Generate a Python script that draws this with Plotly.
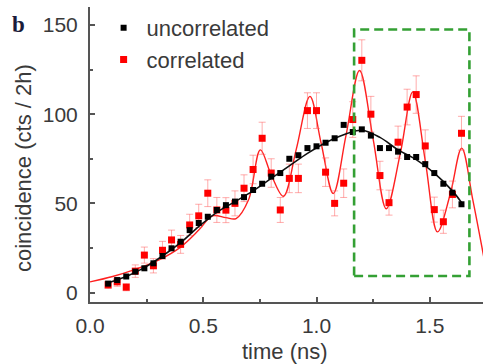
import plotly.graph_objects as go

# ---- data ----
time_ns = [0.08, 0.12, 0.16, 0.20, 0.24, 0.28, 0.32, 0.36, 0.40, 0.44,
           0.48, 0.52, 0.56, 0.60, 0.64, 0.68, 0.72, 0.76, 0.80, 0.84,
           0.88, 0.92, 0.96, 1.00, 1.04, 1.08, 1.12, 1.16, 1.20, 1.24,
           1.28, 1.32, 1.36, 1.40, 1.44, 1.48, 1.52, 1.56, 1.60, 1.64]

uncorrelated = [5, 7, 9, 11.7, 13.6, 16.4, 20.5, 24.8, 28.5, 35,
                39, 42.5, 46.3, 49, 51, 53.5, 57.5, 61, 65, 67,
                75, 77, 81, 82, 84, 86.5, 94, 90, 91.5, 88,
                81, 81, 79, 76, 76, 72, 67, 61, 56, 49.5]

correlated = [4.3, 6, 3, 12, 21, 15, 23.7, 29.5, 27, 37.9,
              43, 55.7, 46.3, 46.2, 50, 58.5, 69, 86.5, 67, 46.3,
              64, 64, 102, 102, 67.5, 50, 61.3, 97, 130.2, 100,
              65.6, 50.4, 84.3, 104, 111, 82.2, 46.5, 39.7, 55, 89.3]

correlated_err = [2, 2.5, 2, 3.5, 4.5, 4, 5, 5.5, 5, 6,
                  6.5, 7.5, 7, 7, 7, 7.5, 8, 9, 8, 7,
                  8, 8, 10, 10, 8, 7, 8, 10, 11.5, 10,
                  8, 7, 9, 10, 10.5, 9, 7, 6.5, 7.5, 9.5]

uncorr_fit_x = [0.08, 0.16, 0.24, 0.32, 0.40, 0.48, 0.56, 0.64, 0.72, 0.80,
                0.88, 0.96, 1.04, 1.12, 1.20, 1.28, 1.36, 1.44, 1.52, 1.60, 1.64]
uncorr_fit_y = [5.5, 9, 14, 20.5, 28, 37, 45, 51, 57, 64,
                71, 78, 84, 88.5, 91, 87, 80, 74.5, 67, 57, 50.5]

corr_fit_x = [0.0, 0.10, 0.20, 0.30, 0.40, 0.48, 0.54, 0.60, 0.645, 0.70,
              0.752, 0.80, 0.854, 0.91, 0.971, 1.02, 1.074, 1.13, 1.19, 1.25,
              1.308, 1.37, 1.425, 1.48, 1.534, 1.59, 1.641, 1.69, 1.75]
corr_fit_y = [6, 9, 13, 18, 25.5, 35, 43, 42, 41.5, 52,
              80, 66, 54, 80, 110, 84, 55.5, 88, 124.5, 86,
              47, 78, 112.5, 74, 34, 55, 81, 52, 12]

box_x = [1.166, 1.675]
box_y = [9.3, 147.5]

FONT = "Liberation Sans, Arial, sans-serif"
TXT = "#3a3a3a"
AX = "#555555"

fig = go.Figure()

fig.add_trace(go.Scatter(x=corr_fit_x, y=corr_fit_y, mode="lines",
                         line=dict(color="#ff2020", width=1.4, shape="spline", smoothing=1.0),
                         showlegend=False, hoverinfo="skip"))
fig.add_trace(go.Scatter(x=time_ns, y=correlated, mode="markers", name="correlated",
                         marker=dict(symbol="square", color="#ff0000", size=7),
                         error_y=dict(type="data", array=correlated_err, visible=True,
                                      color="rgba(255,90,90,0.5)", thickness=1, width=3.5),
                         legendrank=2))
fig.add_trace(go.Scatter(x=uncorr_fit_x, y=uncorr_fit_y, mode="lines",
                         line=dict(color="#111111", width=1.6, shape="spline"),
                         showlegend=False, hoverinfo="skip"))
fig.add_trace(go.Scatter(x=time_ns, y=uncorrelated, mode="markers", name="uncorrelated",
                         marker=dict(symbol="square", color="#000000", size=6),
                         legendrank=1))

fig.add_shape(type="rect", x0=box_x[0], x1=box_x[1], y0=box_y[0], y1=box_y[1],
              xref="x", yref="y",
              line=dict(color="rgb(52,160,52)", width=2.6, dash="9px,5px"))

fig.update_layout(
    width=483, height=364,
    margin=dict(l=90, r=0, t=7, b=62),
    paper_bgcolor="white", plot_bgcolor="white",
    font=dict(family=FONT, size=21, color=TXT),
    legend=dict(x=0.027, y=1.0, xanchor="left", yanchor="top",
                bgcolor="rgba(0,0,0,0)", font=dict(size=22, color=TXT),
                tracegroupgap=0, itemwidth=36),
    annotations=[
        dict(text="coincidence (cts / 2h)", textangle=-90, xref="paper", yref="paper",
             x=-0.169, y=0.4525, xanchor="center", yanchor="middle", showarrow=False,
             font=dict(size=22, color=TXT)),
        dict(text="time (ns)", xref="paper", yref="paper", x=0.495, y=-0.167,
             xanchor="center", yanchor="middle", showarrow=False,
             font=dict(size=22, color=TXT)),
        dict(text="<b>b</b>", xref="paper", yref="paper", x=-0.182, y=0.942,
             xanchor="center", yanchor="middle", showarrow=False,
             font=dict(size=23, color="#1b1b3a", family="Liberation Serif, serif")),
    ],
)

fig.update_xaxes(range=[0, 1.735], tickvals=[0, 0.5, 1.0, 1.5], tickformat=".1f",
                 showline=True, linecolor=AX, linewidth=2, ticks="inside", ticklen=5,
                 tickcolor=AX, tickwidth=1.5, showgrid=False, zeroline=False,
                 ticklabelstandoff=4,
                 minor=dict(dtick=0.25, tick0=0, ticks="inside", ticklen=3, tickcolor=AX,
                            showgrid=False))
fig.update_yaxes(range=[-5.3, 160.1], tickvals=[0, 50, 100, 150],
                 showline=True, linecolor=AX, linewidth=2, ticks="inside", ticklen=5,
                 tickcolor=AX, tickwidth=1.5, showgrid=False, zeroline=False,
                 ticklabelstandoff=6,
                 minor=dict(dtick=25, tick0=0, ticks="inside", ticklen=3, tickcolor=AX,
                            showgrid=False))

fig.write_html("out.html")
